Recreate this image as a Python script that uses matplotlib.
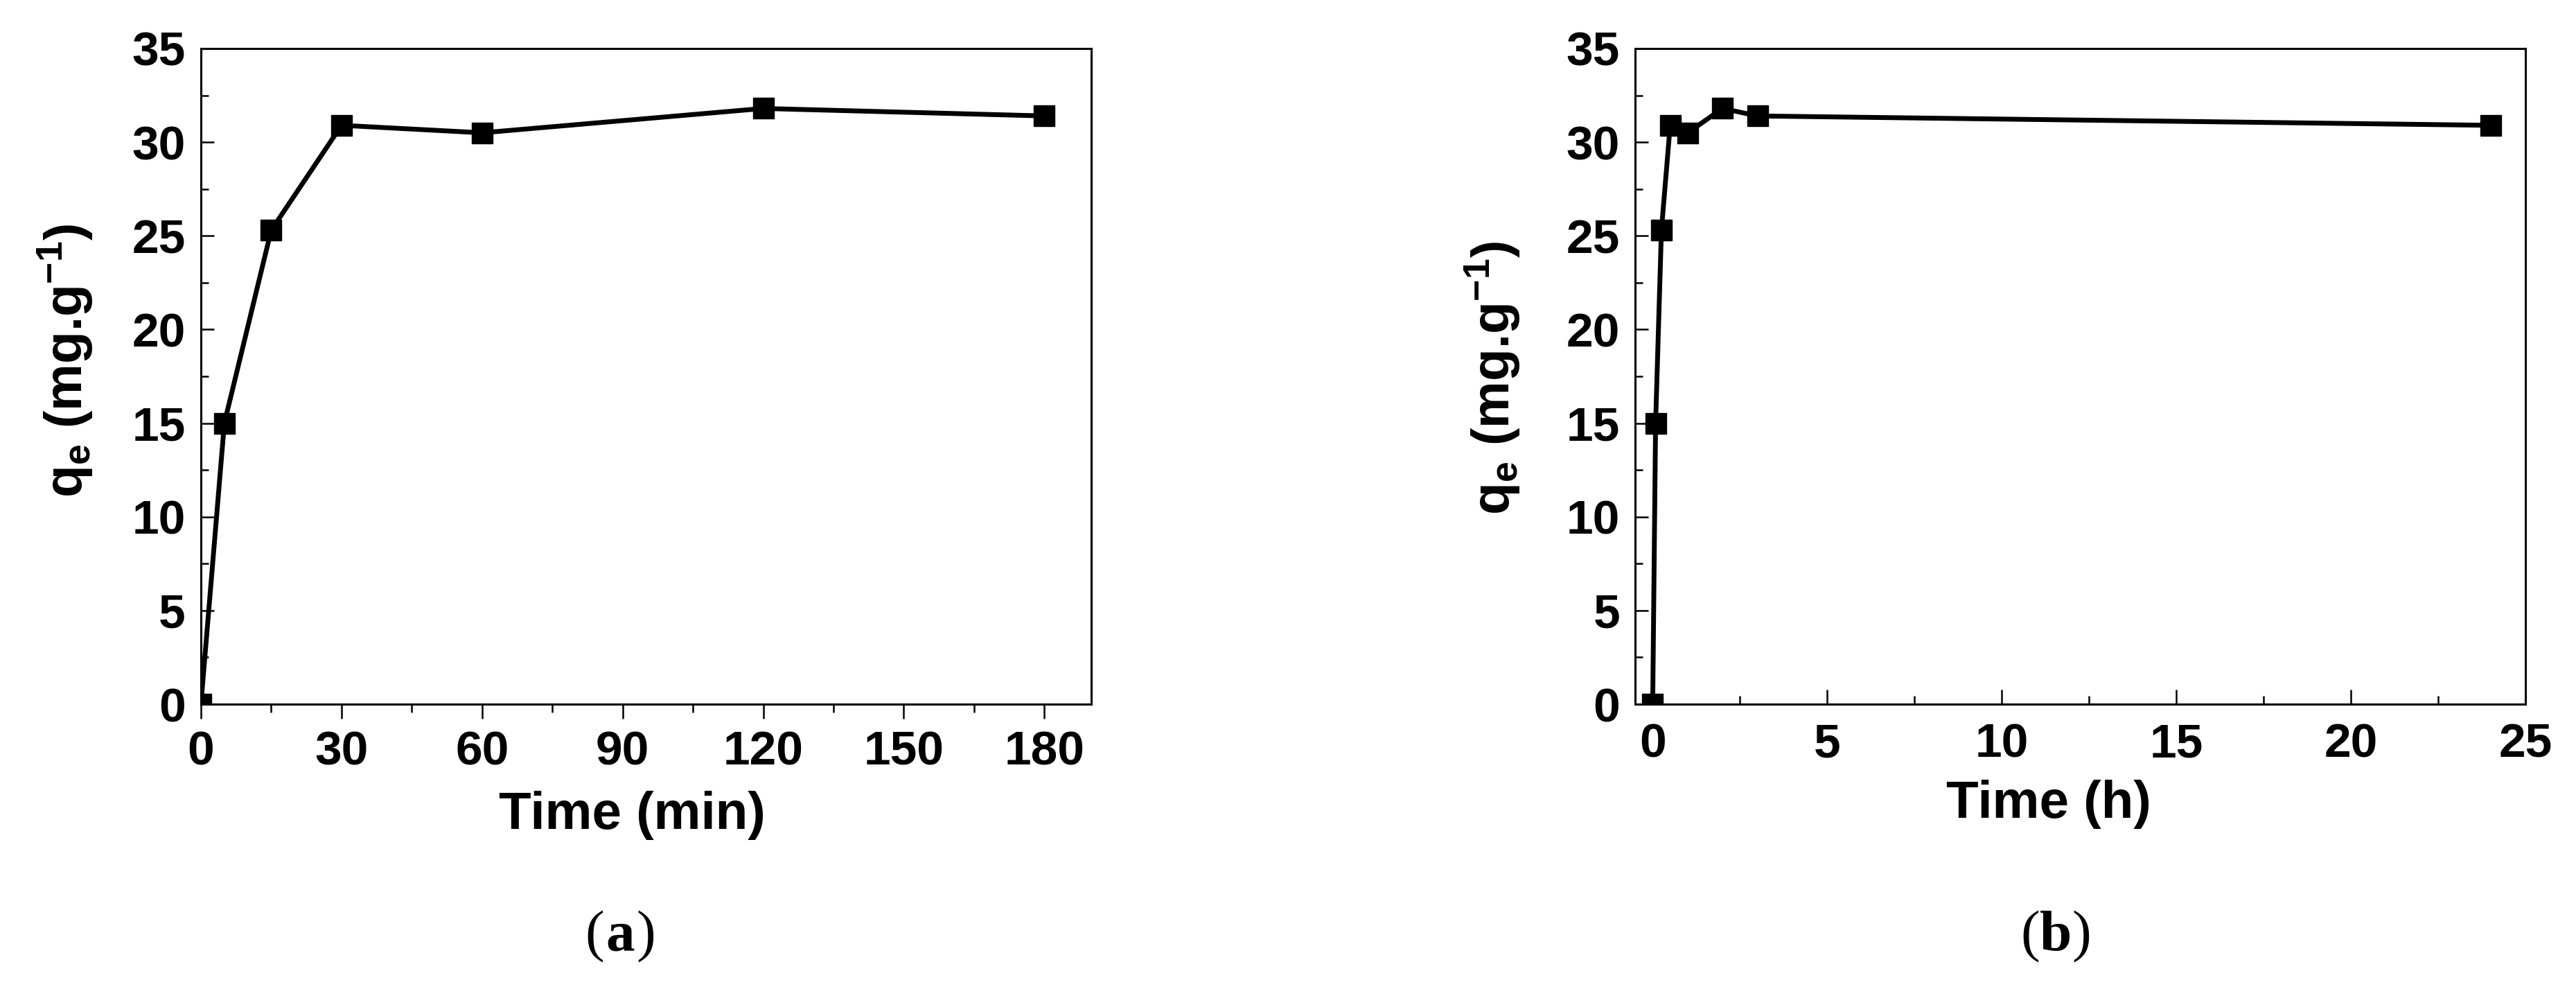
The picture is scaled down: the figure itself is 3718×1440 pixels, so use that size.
import matplotlib
matplotlib.use('Agg')
import matplotlib.pyplot as plt
from matplotlib.ticker import MultipleLocator
from matplotlib.transforms import offset_copy

plt.rcParams['font.family'] = ['Liberation Sans', 'DejaVu Sans']
plt.rcParams['font.weight'] = 'bold'
plt.rcParams['mathtext.fontset'] = 'custom'
plt.rcParams['mathtext.rm'] = 'Liberation Sans:bold'
plt.rcParams['mathtext.bf'] = 'Liberation Sans:bold'
plt.rcParams['mathtext.default'] = 'bf'

# adsorption kinetics data
time_min = [0, 5, 15, 30, 60, 120, 180]
qe_min = [0, 15.0, 25.3, 30.9, 30.5, 31.8, 31.4]

time_h = [0, 0.083, 0.25, 0.5, 1, 2, 3, 24]
qe_h = [0, 15.0, 25.3, 30.9, 30.5, 31.8, 31.4, 30.9]

ylabel = 'q$_e$ (mg.g$^{-1}$)'

fig = plt.figure(figsize=(37.18, 14.4), dpi=100)
ax1 = fig.add_axes([0.078, 0.2944, 0.3456, 0.657])
ax2 = fig.add_axes([0.6348, 0.2944, 0.3456, 0.657])

FS = 50   # tick labels
LFS = 55  # axis labels

def style(ax, xdir):
    for s in ax.spines.values():
        s.set_linewidth(2.2)
    ax.set_ylim(0, 35)
    ax.yaxis.set_major_locator(MultipleLocator(5))
    ax.yaxis.set_minor_locator(MultipleLocator(2.5))
    ax.tick_params(axis='y', which='major', direction='in', length=14, width=1.8, pad=16, labelsize=FS)
    ax.tick_params(axis='y', which='minor', direction='in', length=8, width=1.8)
    xpad = 12 if xdir == 'out' else 19
    ax.tick_params(axis='x', which='major', direction=xdir, length=15, width=1.8, pad=xpad, labelsize=FS)
    ax.tick_params(axis='x', which='minor', direction=xdir, length=8.5, width=1.8)
    for lab in ax.get_xticklabels() + ax.get_yticklabels():
        lab.set_fontweight('bold')

# (a) minutes
ax1.plot(time_min, qe_min, color='black', lw=5, marker='s', ms=21)
ax1.set_xlim(0, 190)
ax1.xaxis.set_major_locator(MultipleLocator(30))
ax1.xaxis.set_minor_locator(MultipleLocator(15))
style(ax1, 'out')
ax1.set_xlabel('Time (min)', fontsize=LFS, fontweight='bold')
ax1.xaxis.label.set_va('baseline')
ax1.xaxis.set_label_coords(0.484, -0.190)
ax1.set_ylabel(ylabel, fontsize=LFS, fontweight='bold')
ax1.yaxis.label.set_va('center')
ax1.yaxis.set_label_coords(-0.152, 0.524)

# (b) hours
ax2.plot(time_h, qe_h, color='black', lw=5, marker='s', ms=21)
ax2.set_xlim(-0.5, 25)
ax2.xaxis.set_major_locator(MultipleLocator(5))
ax2.xaxis.set_minor_locator(MultipleLocator(2.5))
style(ax2, 'in')
ax2.set_xlabel('Time (h)', fontsize=LFS, fontweight='bold')
ax2.xaxis.label.set_va('baseline')
ax2.xaxis.set_label_coords(0.464, -0.173)
ax2.set_ylabel(ylabel, fontsize=LFS, fontweight='bold')
ax2.yaxis.label.set_va('center')
ax2.yaxis.set_label_coords(-0.160, 0.498)

# panel captions
for cx, letter in [(895 / 3718, 'a'), (2967 / 3718, 'b')]:
    cy = 1 - 1371 / 1440
    fig.text(cx, cy, letter, family='Liberation Serif', fontweight='bold',
             fontsize=60, ha='center', va='baseline')
    fig.text(cx, cy, '(', family='Liberation Serif', fontweight='normal', fontsize=60,
             ha='right', va='baseline',
             transform=offset_copy(fig.transFigure, fig=fig, x=-23, y=0, units='dots'))
    fig.text(cx, cy, ')', family='Liberation Serif', fontweight='normal', fontsize=60,
             ha='left', va='baseline',
             transform=offset_copy(fig.transFigure, fig=fig, x=23, y=0, units='dots'))

fig.savefig('out.png', dpi=100)
